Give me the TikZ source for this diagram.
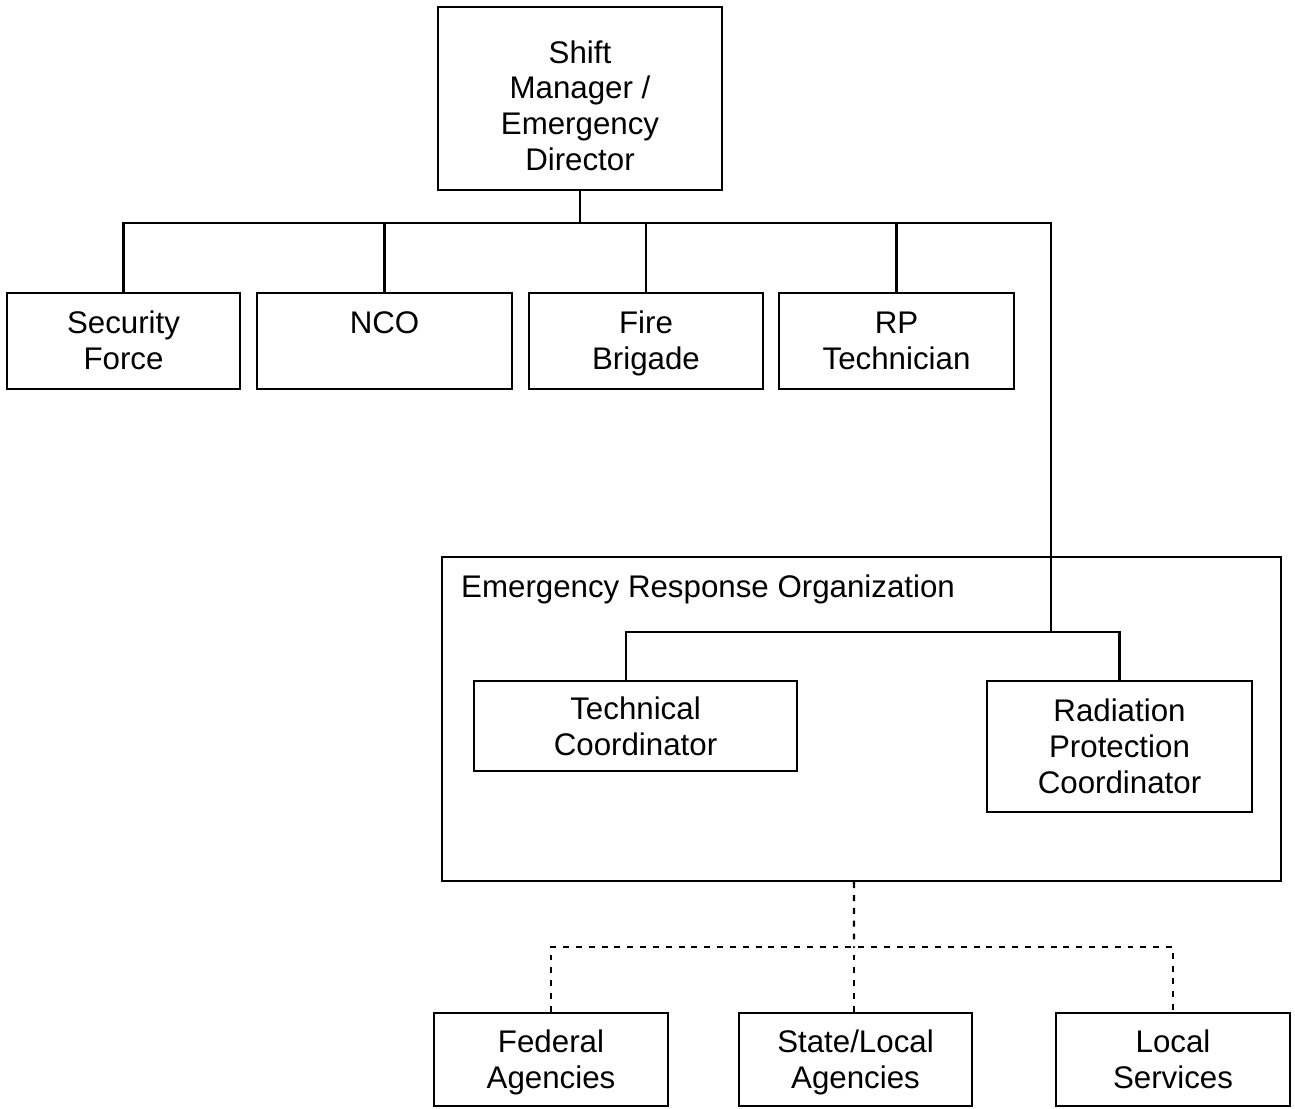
\documentclass[tikz,border=0pt]{standalone}
\usepackage{fontspec}
\setmainfont{Liberation Sans}
\begin{document}
\begin{tikzpicture}[
  x=0.02cm, y=-0.02cm,
  every node/.style = {font=\fontsize{17.8}{20.4}\selectfont},
  unit/.style = {draw, line width=1.4pt, align=center, inner sep=0pt,
                 text depth=0.5pt},
  link/.style = {line width=1.4pt},
  dlink/.style = {line width=1.4pt, dash pattern=on 3.4pt off 3.9pt},
]
\useasboundingbox (0,0) rectangle (1295,1109);

%% -- top of the chain -------------------------------------------------------
\node[unit, text height=82pt, text depth=0pt, minimum width=5.68cm,
      minimum height=3.66cm] (sm) at (580,98.5)
  {Shift\\Manager /\\Emergency\\Director};

%% -- on-shift units ---------------------------------------------------------
\node[unit, minimum width=4.66cm, minimum height=1.92cm] (sec) at (123.5,341)
  {Security\\Force};
\node[unit, minimum width=5.10cm, minimum height=1.92cm] (nco) at (384.5,341)
  {NCO\\\phantom{Force}};
\node[unit, minimum width=4.68cm, minimum height=1.92cm] (fire) at (646,341)
  {Fire\\Brigade};
\node[unit, minimum width=4.70cm, minimum height=1.92cm] (rp) at (896.5,341)
  {RP\\Technician};

%% -- emergency response organization ----------------------------------------
\node[draw, line width=1.4pt, minimum width=16.78cm, minimum height=6.48cm,
      inner sep=0pt] (ero) at (861.5,719) {};
\node[anchor=west] (erolbl) at (455,589) {Emergency Response Organization};
\node[unit, text depth=-1pt, minimum width=6.46cm, minimum height=1.80cm]
  (tech) at (635.5,726) {Technical\\Coordinator};
\node[unit, minimum width=5.30cm, minimum height=2.62cm] (rpc) at (1119.5,746.5)
  {Radiation\\Protection\\Coordinator};

%% -- outside agencies ---------------------------------------------------------
\node[unit, minimum width=4.68cm, minimum height=1.86cm] (fed) at (551,1059.5)
  {Federal\\Agencies};
\node[unit, minimum width=4.66cm, minimum height=1.86cm] (state) at (855.5,1059.5)
  {State/Local\\Agencies};
\node[unit, minimum width=4.68cm, minimum height=1.86cm] (local) at (1173,1059.5)
  {Local\\Services};

%% -- solid links --------------------------------------------------------------
\coordinate (bus) at (580,223);
\coordinate (drop) at (1051,632);
\draw[link] (sm.south) -- (bus);
\draw[link] (sec.north) |- (bus) -| (drop);
\draw[link] (nco.north) -- (nco.north |- bus);
\draw[link] (fire.north) -- (fire.north |- bus);
\draw[link] (rp.north) -- (rp.north |- bus);
\draw[link] ([xshift=-0.19cm]tech.north) |- (drop) -| (rpc.north);

%% -- dashed links -------------------------------------------------------------
\coordinate (dbus) at (854,947);
\draw[dlink] ([xshift=-0.15cm]ero.south) -- (dbus);
\draw[dlink] (fed.north) |- (dbus) -| (local.north);
\draw[dlink] ([xshift=-0.03cm]state.north) -- ([xshift=-0.03cm]state.north |- dbus);

\end{tikzpicture}
\end{document}
